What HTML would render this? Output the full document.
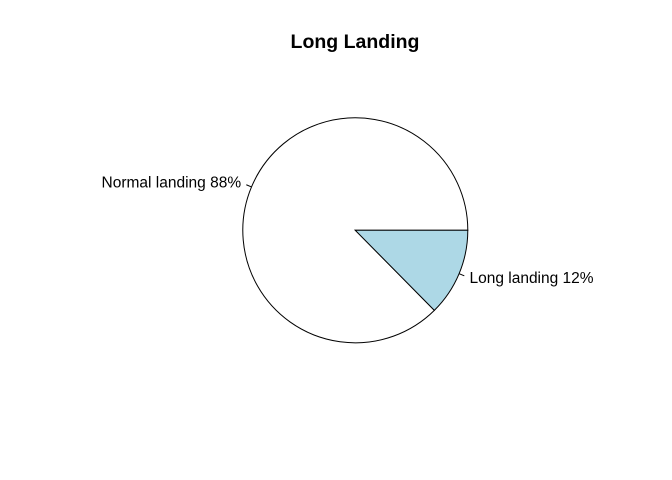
<!DOCTYPE html>
<html><head><meta charset="utf-8"><style>
html,body{margin:0;padding:0;background:#fff;}
svg{display:block;font-family:"Liberation Sans",Arial,sans-serif;}
</style></head><body>
<svg id="chart" width="672" height="480" viewBox="0 0 672 480">
<rect width="672" height="480" fill="#fff"/>
<text x="355" y="48" text-anchor="middle" font-size="19.5" font-weight="bold">Long Landing</text>
<g id="slices"></g>
</svg>
<script>
const categories = ["Normal landing 88%", "Long landing 12%"];
const values = [87.4, 12.6];
const colors = ["#ffffff", "#add8e6"];

const cx = 355.3, cy = 230.3, r = 112.5;
const NS = "http://www.w3.org/2000/svg";
const g = document.getElementById("slices");
const total = values.reduce((a, b) => a + b, 0);
function pt(frac, rad) {
  const a = 2 * Math.PI * frac;
  return [cx + rad * Math.cos(a), cy - rad * Math.sin(a)];
}
let cum = 0;
values.forEach((v, i) => {
  const f0 = cum / total, f1 = (cum + v) / total;
  cum += v;
  const p0 = pt(f0, r), p1 = pt(f1, r);
  const large = (f1 - f0) > 0.5 ? 1 : 0;
  const path = document.createElementNS(NS, "path");
  path.setAttribute("d", `M${cx},${cy} L${p0[0]},${p0[1]} A${r},${r} 0 ${large} 0 ${p1[0]},${p1[1]} Z`);
  path.setAttribute("fill", colors[i]);
  path.setAttribute("stroke", "#000");
  path.setAttribute("stroke-width", "1");
  
  
  g.appendChild(path);
  const fm = (f0 + f1) / 2;
  const a = pt(fm, r), b = pt(fm, r * 1.05), c = pt(fm, r * 1.1);
  const ln = document.createElementNS(NS, "line");
  ln.setAttribute("x1", a[0]); ln.setAttribute("y1", a[1]);
  ln.setAttribute("x2", b[0]); ln.setAttribute("y2", b[1]);
  ln.setAttribute("stroke", "#000");
  
  
  g.appendChild(ln);
  const t = document.createElementNS(NS, "text");
  const right = Math.cos(2 * Math.PI * fm) > 0;
  t.setAttribute("x", c[0]);
  t.setAttribute("y", c[1] + 5);
  t.setAttribute("text-anchor", right ? "start" : "end");
  t.setAttribute("font-size", "15.5");
  t.textContent = categories[i];
  
  
  g.appendChild(t);
});
</script>
</body></html>
